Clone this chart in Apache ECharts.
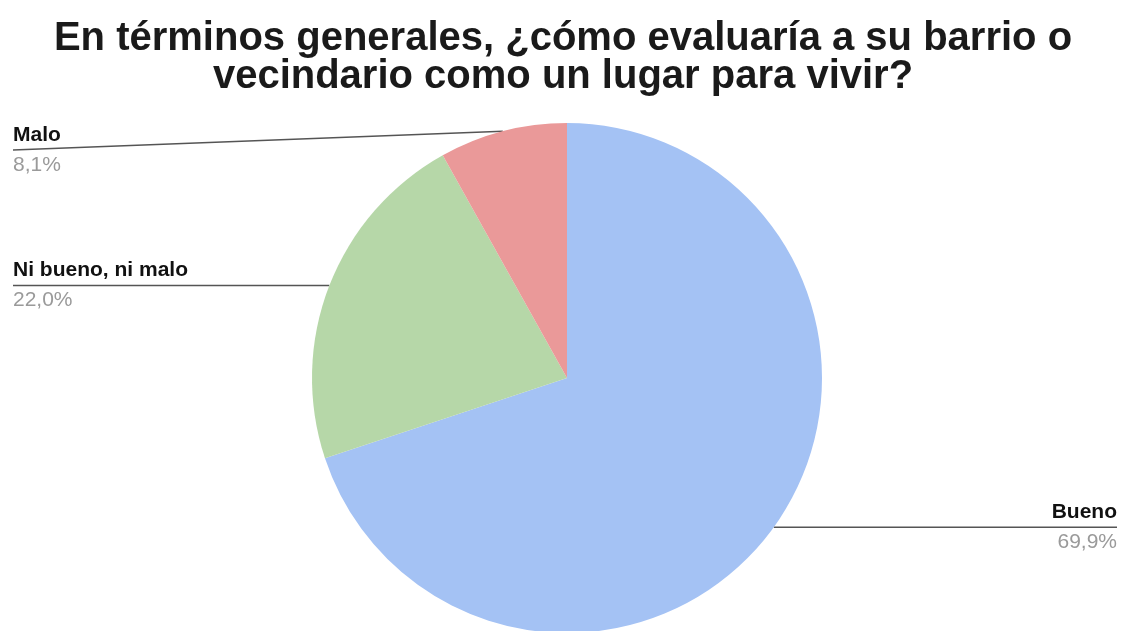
<!DOCTYPE html>
<html>
<head>
<meta charset="utf-8">
<script src="https://cdn.jsdelivr.net/npm/echarts@6/dist/echarts.min.js"></script>
<style>
html,body{margin:0;padding:0;background:#fff;}
#chart{width:1126px;height:631px;}
</style>
</head>
<body>
<div id="chart"></div>
<script>
const titleText = 'En términos generales, ¿cómo evaluaría a su barrio o\nvecindario como un lugar para vivir?';
const categories = ['Bueno', 'Ni bueno, ni malo', 'Malo'];
const values = [69.9, 22.0, 8.1];
const colors = ['#a4c2f4', '#b6d7a8', '#ea9999'];

const chart = echarts.init(document.getElementById('chart'), null, {renderer: 'canvas'});
const EDGE_L = 13;
const EDGE_R = 9;
const LABEL_MIN_Y = 150;

const option = {
  backgroundColor: '#ffffff',
  animation: false,
  title: {
    text: titleText,
    left: 'center',
    top: 15,
    textStyle: {
      fontFamily: 'Liberation Sans, Arial, sans-serif',
      fontWeight: 'bold',
      fontSize: 40,
      lineHeight: 38,
      color: '#1a1a1a'
    }
  },
  series: [{
    type: 'pie',
    center: [567, 378],
    radius: 255,
    startAngle: 90,
    clockwise: true,
    silent: true,
    data: categories.map((c, i) => ({name: c, value: values[i], itemStyle: {color: colors[i]}})),
    label: {
      show: true,
      position: 'outside',
      formatter: p => '{n|' + p.name + '}\n{p|' + values[p.dataIndex].toFixed(1).replace('.', ',') + '%}',
      rich: {
        n: {fontFamily: 'Liberation Sans, Arial, sans-serif', fontWeight: 'bold', fontSize: 21, lineHeight: 30, color: '#111'},
        p: {fontFamily: 'Liberation Sans, Arial, sans-serif', fontSize: 21, lineHeight: 30, color: '#9a9a9a'}
      }
    },
    labelLine: {
      show: true,
      length: 10,
      length2: 10,
      lineStyle: {color: '#555', width: 1.5}
    },
    labelLayout: function (params) {
      const p0 = params.labelLinePoints[0];
      const W = chart.getWidth();
      const isLeft = p0[0] < 567;
      const ex = isLeft ? EDGE_L : W - EDGE_R;
      const y = Math.max(p0[1], LABEL_MIN_Y);
      return {
        x: ex,
        y: y,
        align: isLeft ? 'left' : 'right',
        verticalAlign: 'middle',
        labelLinePoints: [[p0[0], p0[1]], [ex, y], [ex, y]]
      };
    }
  }]
};
chart.setOption(option);
</script>
</body>
</html>
